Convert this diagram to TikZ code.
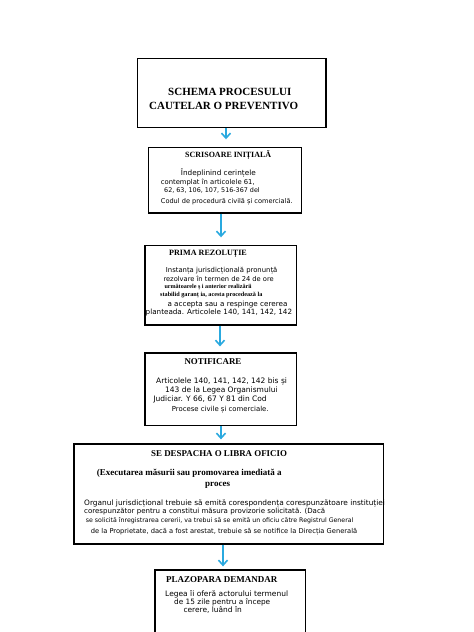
\documentclass[tikz,border=0pt]{standalone}
\usepackage{fontspec}
\setmainfont{Liberation Serif}
\newfontfamily\bodyfont{DejaVu Sans}
\usepackage{xcolor}
\usetikzlibrary{arrows.meta}
\definecolor{FlowCyan}{HTML}{29A9DF}

\begin{document}
\begin{tikzpicture}[x=1pt, y=-1pt,
                    >={Straight Barb[length=5pt,width=9pt]},
                    frame/.style={draw=black, line width=1.3pt, inner sep=0pt},
                    head/.style={anchor=base west, inner sep=0pt,
                                 font=\bfseries\fontsize{#1}{#1}\selectfont},
                    head/.default=9,
                    body/.style={anchor=base west, inner sep=0pt,
                                 font=\bodyfont\fontsize{#1}{#1}\selectfont},
                    body/.default=7,
                    flow/.style={draw=FlowCyan, line width=1.6pt, ->}]
\useasboundingbox[fill=white] (0,0) rectangle (474,632);
% boxes
\node[frame, minimum width=188.7pt, minimum height=69pt] (schema) at (231.6,92.8) {};
\node[frame, minimum width=153.4pt, minimum height=65.5pt] (scrisoare) at (225,180.2) {};
\node[frame, minimum width=151.7pt, minimum height=79.3pt] (rezolutie) at (220.8,285.3) {};
\node[frame, minimum width=151.7pt, minimum height=72.3pt] (notificare) at (220.8,389.2) {};
\node[frame, minimum width=309.3pt, minimum height=100pt] (despacha) at (228.7,494) {};
\node[frame, minimum width=150.7pt, minimum height=80pt] (plazo) at (230.3,610) {};
% texts
\node[head=11] (schema-1) at (168,95) {SCHEMA PROCESULUI};
\node[head=11] (schema-2) at (149,109.3) {CAUTELAR O PREVENTIVO};

\node[head=8] (scrisoare-t) at (185,157.3) {SCRISOARE INIȚIALĂ};
\node[body=7.3] (scrisoare-1) at (180.7,175.7) {Îndeplinind cerințele};
\node[body=6.8] (scrisoare-2) at (160.7,184.3) {contemplat în articolele 61,};
\node[body=6.4] (scrisoare-3) at (164,192.7) {62, 63, 106, 107, 516-367 del};
\node[body=6.6] (scrisoare-4) at (160.7,203.5) {Codul de procedură civilă și comercială.};

\node[head=8.1] (rezolutie-t) at (169,255.7) {PRIMA REZOLUȚIE};
\node[body=6.85] (rezolutie-1) at (165.7,272.3) {Instanța jurisdicțională pronunță};
\node[body=6.7] (rezolutie-2) at (163.3,281) {rezolvare în termen de 24 de ore};
\node[head=6.1] (rezolutie-3) at (164.3,288.7) {următoarele ș i anterior realizării};
\node[head=6.2] (rezolutie-4) at (160,296) {stabilid garanț ia, acesta procedează la};
\node[body=7.2] (rezolutie-5) at (167.3,306) {a accepta sau a respinge cererea};
\node[body=7.2] (rezolutie-6) at (145.5,314.3) {planteada. Articolele 140, 141, 142, 142};

\node[head=8.9] (notificare-t) at (184.3,364.7) {NOTIFICARE};
\node[body=7.5] (notificare-1) at (156,383) {Articolele 140, 141, 142, 142 bis și};
\node[body=7.5] (notificare-2) at (165,392) {143 de la Legea Organismului};
\node[body=7.5] (notificare-3) at (153.3,401.3) {Judiciar. Y 66, 67 Y 81 din Cod};
\node[body=6.9] (notificare-4) at (171.7,411.3) {Procese civile și comerciale.};

\node[head=8.9] (despacha-t) at (151,456) {SE DESPACHA O LIBRA OFICIO};
\node[head=9] (despacha-1) at (96.7,475.3) {(Executarea măsurii sau promovarea imediată a};
\node[head=9] (despacha-2) at (205,486.7) {proces};
\node[body=7.4] (despacha-3) at (84,505) {Organul jurisdicțional trebuie să emită corespondența corespunzătoare instituției};
\node[body=7.05] (despacha-4) at (84,513.3) {corespunzător pentru a constitui măsura provizorie solicitată. (Dacă};
\node[body=6.25] (despacha-5) at (85.7,522.5) {se solicită înregistrarea cererii, va trebui să se emită un oficiu către Registrul General};
\node[body=6.7] (despacha-6) at (90.7,533) {de la Proprietate, dacă a fost arestat, trebuie să se notifice la Direcția Generală};

\node[head=9] (plazo-t) at (166,582.7) {PLAZOPARA DEMANDAR};
\node[body=7.5] (plazo-1) at (165,596) {Legea îi oferă actorului termenul};
\node[body=7.35] (plazo-2) at (174,604) {de 15 zile pentru a începe};
\node[body=7.45] (plazo-3) at (183.3,612.3) {cerere, luând în};
% arrows
\draw[flow, shorten >=7.5pt] ([xshift=-5.6pt]schema.south) -- ([xshift=1pt]scrisoare.north);
\draw[flow, shorten >=7.7pt] ([xshift=-4pt]scrisoare.south) -- ([xshift=0.2pt]rezolutie.north);
\draw[flow, shorten >=6pt] ([xshift=-0.8pt]rezolutie.south) -- ([xshift=-0.8pt]notificare.north);
\draw[flow, shorten >=4pt] ([xshift=0.2pt]notificare.south) -- ([xshift=-7.7pt]despacha.north);
\draw[flow, shorten >=3pt] ([xshift=-5.7pt]despacha.south) -- ([xshift=-7.3pt]plazo.north);
\end{tikzpicture}
\end{document}
